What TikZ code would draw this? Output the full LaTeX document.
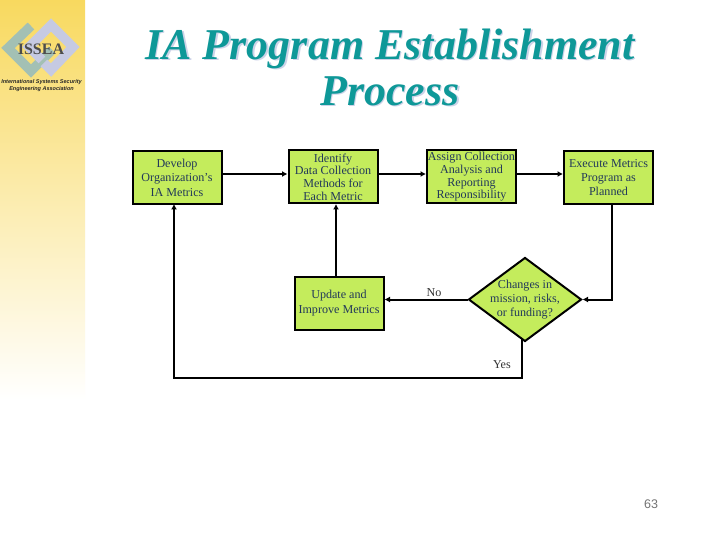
\documentclass[tikz,border=0pt]{standalone}
\usepackage{fontspec}
\setmainfont{Liberation Serif}
\newfontfamily\logosans{Liberation Sans}
\usetikzlibrary{shapes.geometric,arrows.meta}
\definecolor{boxfill}{HTML}{C4EC5C}
\definecolor{txt}{HTML}{22385A}
\definecolor{titlec}{HTML}{0E9898}
\definecolor{titles}{HTML}{CDD3E8}
\definecolor{stripc}{HTML}{F8D95F}
\definecolor{ringa}{HTML}{A3C0B4}
\definecolor{ringb}{HTML}{C6CAE2}
\tikzset{
  x=1pt,y=-1pt,
  stepbox/.style={draw=black,line width=2pt,fill=boxfill,minimum width=89pt,minimum height=53pt,inner sep=0pt,align=center,text=txt,font=\fontsize{12.1}{14.4}\selectfont},
  choice/.style={diamond,aspect=1.34,draw=black,line width=2pt,fill=boxfill,minimum width=113pt,minimum height=84pt,inner sep=0pt},
  choicetext/.style={align=center,inner sep=0pt,text=txt,font=\fontsize{12.1}{14}\selectfont},
  link/.style={line width=2pt,-{Latex[length=5.5pt,width=6pt]}},
  lbl/.style={text=black!80,font=\fontsize{12.1}{14}\selectfont,inner sep=0pt},
  ttl/.style={font=\fontsize{44}{46}\selectfont\bfseries\itshape,align=center,inner sep=0pt},
}
\begin{document}
\begin{tikzpicture}
\useasboundingbox (0,0) rectangle (720,540);
\fill[white] (0,0) rectangle (720,540);
\shade[top color=stripc,bottom color=white] (0,0) rectangle (85,400);
% logo
\draw[ringa,line width=9.5pt,line join=miter] (31,26) -- (8,48) -- (31,71) -- (52,50);
\draw[ringb,line width=9.5pt,line join=miter] (42,60) -- (29,47) -- (51,25) -- (73,47) -- (51,70) -- (44,63);
\node[inner sep=0pt,font=\bfseries\fontsize{16}{16}\selectfont,text=black!70] (logoname) at (41,49) {ISSEA};
\node[inner sep=0pt,align=center,font=\logosans\bfseries\itshape\fontsize{5.5}{6.4}\selectfont,text=black!85] (logosub) at (41.5,85.5) {International Systems Security\\Engineering Association};
% title
\node[ttl,text=titles] (titleshadow) at (391.5,68.5) {IA Program Establishment\\Process};
\node[ttl,text=titlec] (titlemain) at (390,67) {IA Program Establishment\\Process};
% boxes
\node[stepbox] (develop) at (177,177.5) {Develop\\Organization’s\\IA Metrics};
\node[stepbox,font=\fontsize{12.1}{12.6}\selectfont] (identify) at (333,177) {Identify\\Data Collection\\Methods for\\Each Metric};
\node[stepbox,font=\fontsize{12.1}{12.6}\selectfont] (assign) at (471.5,177) {Assign Collection\\Analysis and\\Reporting\\Responsibility};
\node[stepbox] (execute) at (608.5,177.5) {Execute Metrics\\Program as\\Planned};
\node[stepbox,font=\fontsize{12.1}{15}\selectfont] (update) at (339,303) {Update and\\Improve Metrics};
\node[choice] (changes) at (525,299.5) {};
\node[choicetext] (changestext) at (525,300) {Changes in\\mission, risks,\\or funding?};
% connectors
\coordinate (rowy) at (300,174);
\coordinate (execx) at (612,204);
\coordinate (yestop) at (522,339);
\coordinate (yesdown) at (522,378);
\coordinate (backcorner) at (174,378);
\coordinate (backtop) at (174,204);
\coordinate (upbase) at (336,276);
\coordinate (uptop) at (336,204);
\draw[link] (develop.east |- rowy) -- (identify.west |- rowy);
\draw[link] (identify.east |- rowy) -- (assign.west |- rowy);
\draw[link] (assign.east |- rowy) -- (execute.west |- rowy);
\draw[link] (execx) -- (execx |- changes.east) -- (changes.east);
\draw[link] (changes.west) -- (update.east |- changes.west);
\draw[link] (upbase) -- (uptop);
\draw[link] (yestop) -- (yesdown) -- (backcorner) -- (backtop);
% labels
\node[lbl] (nolabel) at (434,293) {No};
\node[lbl] (yeslabel) at (502,365) {Yes};
\node[inner sep=0pt,font=\logosans\fontsize{12.5}{14}\selectfont,text=black!55] (pagenum) at (651,504) {63};
\end{tikzpicture}
\end{document}
